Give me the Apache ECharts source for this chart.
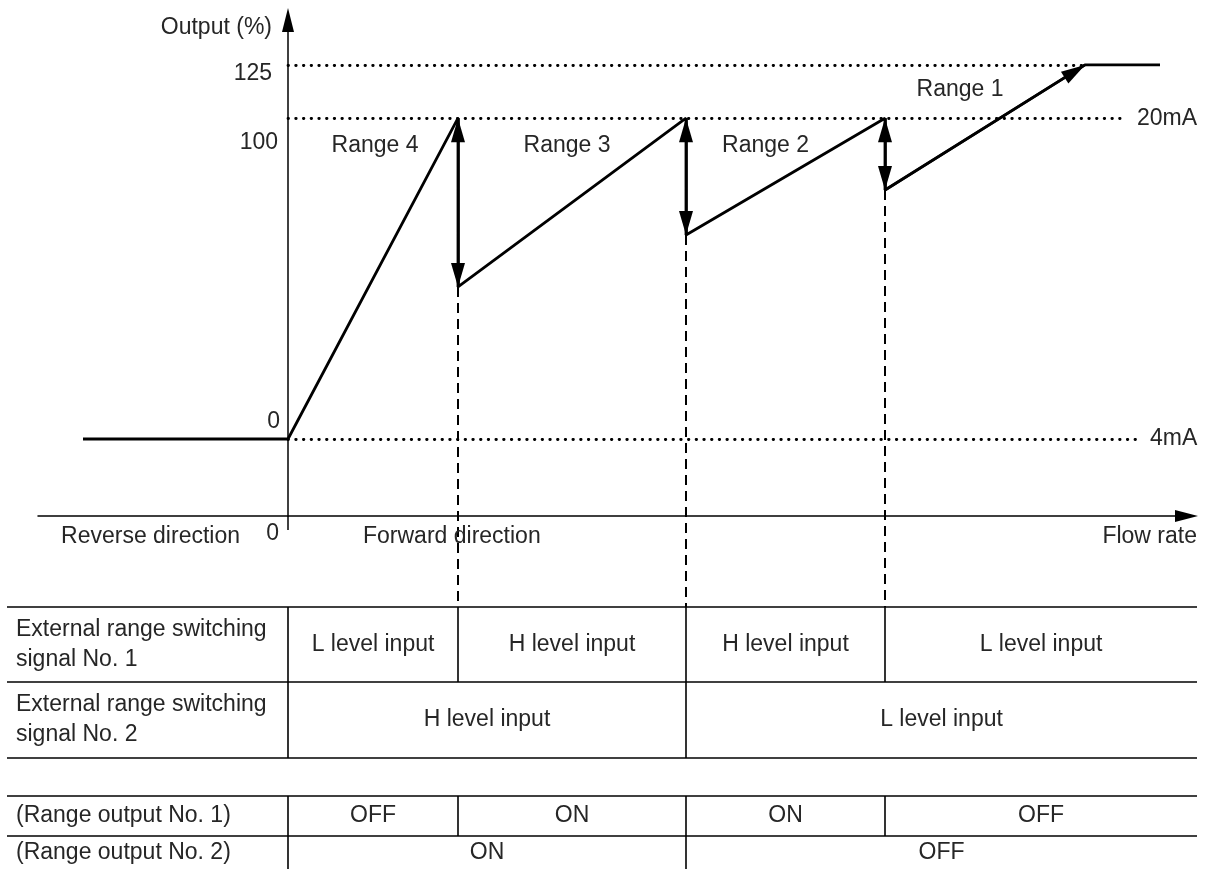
<!DOCTYPE html>
<html>
<head>
<meta charset="utf-8">
<script src="https://cdn.jsdelivr.net/npm/echarts@6/dist/echarts.min.js"></script>
<style>
html, body { margin: 0; padding: 0; background: #fff; }
#main { width: 1211px; height: 869px; }
</style>
</head>
<body>
<div id="main"></div>
<script>
// flow rate in drawing units (0 = zero flow), output in % (125 % is drawn compressed, as in the original)
const reverseFlow = -205;
const switchFlow = [170, 398, 597];          // range 4->3, 3->2, 2->1
const fullFlow = 797;                         // output reaches 125 %
const endFlow = 872;
const outputLevels = [0, 100, 116.6];         // 0 %, 100 %, 125 %
const levelLabels = ['0', '100', '125'];
const levelCurrents = ['4mA', '20mA', ''];
const dropOutput = [47.4, 63.6, 77.6];        // output right after each switch
const rangeNames = ['Range 4', 'Range 3', 'Range 2', 'Range 1'];
const axisTexts = ['Output (%)', 'Reverse direction', 'Forward direction', 'Flow rate'];
const xTickLabels = ['0'];

// table below the graph
const rowNames = [
  'External range switching\nsignal No. 1',
  'External range switching\nsignal No. 2',
  '(Range output No. 1)',
  '(Range output No. 2)'
];
const signalNo1 = ['L level input', 'H level input', 'H level input', 'L level input'];
const signalNo2 = ['H level input', 'L level input'];
const outputNo1 = ['OFF', 'ON', 'ON', 'OFF'];
const outputNo2 = ['ON', 'OFF'];

// layout
const FONT = '"Liberation Sans", Arial, sans-serif';
const TXT = '#262626';
const FS = 23;
const xMin = -250, xMax = 898.5;
const yMin = -24, yMax = 130.6;
const gridTop = 20, gridBottom = 353;
const tableXMin = -281, tableXMax = 909;
const rowBands = [[0, 75], [75, 151], [189, 229], [229, 262]];
const closedBelow = [false, true, false, false];

const chartHeight = 869;
const pxPerUnit = (chartHeight - gridTop - gridBottom) / (yMax - yMin);
const axisPx = chartHeight - gridBottom;
const tableTopPx = 607;
const tableTopY = yMin - (tableTopPx - axisPx) / pxPerUnit;

const lvl0 = outputLevels[0], lvl100 = outputLevels[1], lvl125 = outputLevels[2];

// sawtooth output curve
const curve = [[reverseFlow, lvl0], [0, lvl0]];
switchFlow.forEach((s, i) => {
  curve.push([s, lvl100], [s, dropOutput[i]]);
});
curve.push([fullFlow, lvl125], [endFlow, lvl125]);

const arrowSize = [14, 24];
const arrowLines = switchFlow.map((s, i) => [
  { coord: [s, lvl100] },
  { coord: [s, dropOutput[i]] }
]);
arrowLines.push([
  { coord: [switchFlow[2], dropOutput[2]], symbol: 'none' },
  { coord: [fullFlow, lvl125] }
]);

// dotted level lines
const levelEnds = [852, 835, fullFlow];
const dotted = { type: [0.5, 7.2], cap: 'round', width: 2.8, color: '#000' };
const levelLines = outputLevels.map((v, i) => [
  {
    coord: [0, v],
    lineStyle: dotted,
    label: {
      show: levelCurrents[i] !== '',
      position: 'end',
      formatter: levelCurrents[i],
      distance: i === 0 ? 10 : 14,
      color: TXT, fontFamily: FONT, fontSize: FS
    }
  },
  { coord: [levelEnds[i], v] }
]);

// dashed drop lines down to the table
const dashSeries = switchFlow.map((s, i) => ({
  type: 'line',
  clip: false,
  symbol: 'none',
  silent: true,
  data: [[s, dropOutput[i]], [s, tableTopY]],
  lineStyle: { color: '#000', width: 2, type: [10, 6] },
  z: 1
}));

// free texts
const rangeBounds = [0, ...switchFlow, fullFlow];
const rangeOffsets = [[2, 27], [-5, 27], [-20, 27], [-25, 25]];
function txt(value, text, offset, align) {
  return {
    value: value,
    label: {
      show: true, position: 'inside', formatter: text, offset: offset,
      align: align, verticalAlign: 'middle', opacity: 1,
      color: TXT, fontFamily: FONT, fontSize: FS
    }
  };
}
const texts = [
  txt([0, yMax], axisTexts[0], [-16, 8], 'right'),
  txt([0, lvl125], levelLabels[2], [-16, 9], 'right'),
  txt([0, lvl100], levelLabels[1], [-10, 24], 'right'),
  txt([0, lvl0], levelLabels[0], [-8, -17], 'right'),
  txt([0, yMin], axisTexts[1], [-48, 21], 'right'),
  txt([0, yMin], axisTexts[2], [75, 21], 'left'),
  txt([xMax, yMin], axisTexts[3], [10.5, 21], 'right')
];
rangeNames.forEach((n, i) => {
  const mid = (rangeBounds[i] + rangeBounds[i + 1]) / 2;
  texts.push(txt([mid, i === 3 ? lvl125 : lvl100], n, rangeOffsets[i], 'center'));
});

// table cells
const cells = [];
rowNames.forEach((n, r) => cells.push({ x0: tableXMin, x1: 0, row: r, text: n, head: true }));
[signalNo1, signalNo2, outputNo1, outputNo2].forEach((vals, r) => {
  const edges = vals.length === 4 ? [0, ...switchFlow, tableXMax] : [0, switchFlow[1], tableXMax];
  vals.forEach((t, i) => cells.push({ x0: edges[i], x1: edges[i + 1], row: r, text: t }));
});

function rule(a, b) {
  return {
    type: 'line',
    shape: { x1: a[0], y1: a[1], x2: b[0], y2: b[1] },
    style: { stroke: '#000', lineWidth: 1.6 }
  };
}

function renderCell(params, api) {
  const c = cells[params.dataIndex];
  const top = rowBands[c.row][0], bottom = rowBands[c.row][1];
  const p0 = api.coord([c.x0, top]);
  const p1 = api.coord([c.x1, bottom]);
  const cy = (p0[1] + p1[1]) / 2;
  const children = [];
  const style = { fill: TXT, fontFamily: FONT, fontSize: FS, verticalAlign: 'middle', lineHeight: 30 };
  if (c.head) {
    children.push(rule(api.coord([tableXMin, top]), api.coord([tableXMax, top])));
    if (closedBelow[c.row]) {
      children.push(rule(api.coord([tableXMin, bottom]), api.coord([tableXMax, bottom])));
    }
    children.push({ type: 'text', style: Object.assign({ text: c.text, x: p0[0] + 9, y: cy, align: 'left' }, style) });
  } else {
    children.push(rule(p0, [p0[0], p1[1]]));
    children.push({ type: 'text', style: Object.assign({ text: c.text, x: (p0[0] + p1[0]) / 2, y: cy, align: 'center' }, style) });
  }
  return { type: 'group', children: children };
}

const axisLineStyle = { color: '#000', width: 1.5 };

const option = {
  animation: false,
  backgroundColor: '#fff',
  grid: [
    { left: 38, right: 24.5, top: gridTop, bottom: gridBottom },
    { left: 7, right: 14, top: tableTopPx, bottom: 0 }
  ],
  xAxis: [
    {
      type: 'value', gridIndex: 0, min: xMin, max: xMax,
      splitLine: { show: false },
      axisLine: {
        show: true, onZero: false,
        symbol: ['none', 'triangle'], symbolSize: [12, 23],
        lineStyle: axisLineStyle
      },
      axisTick: { show: true, customValues: [0], length: 14, lineStyle: axisLineStyle },
      axisLabel: {
        customValues: [0], formatter: () => xTickLabels[0],
        align: 'right', padding: [0, 9, 0, 0], margin: 6,
        color: TXT, fontFamily: FONT, fontSize: FS
      }
    },
    { type: 'value', gridIndex: 1, min: tableXMin, max: tableXMax, show: false }
  ],
  yAxis: [
    {
      type: 'value', gridIndex: 0, min: yMin, max: yMax,
      splitLine: { show: false },
      axisLine: {
        show: true, onZero: true,
        symbol: ['none', 'triangle'], symbolSize: [12, 24],
        lineStyle: axisLineStyle
      },
      axisTick: { show: false },
      axisLabel: { show: false }
    },
    { type: 'value', gridIndex: 1, min: 0, max: 262, inverse: true, show: false }
  ],
  series: [
    {
      type: 'line',
      name: 'levels',
      data: [],
      silent: true,
      markLine: { silent: true, symbol: ['none', 'none'], data: levelLines },
      z: 1
    },
    ...dashSeries,
    {
      type: 'line',
      name: 'output',
      data: curve,
      symbol: 'none',
      clip: false,
      silent: true,
      lineStyle: { color: '#000', width: 2.8 },
      markLine: {
        silent: true,
        symbol: ['triangle', 'triangle'],
        symbolSize: arrowSize,
        symbolOffset: [[0, arrowSize[1] / 2], [0, arrowSize[1] / 2]],
        label: { show: false },
        lineStyle: { color: '#000', width: 2.6, type: 'solid' },
        data: arrowLines
      },
      z: 3
    },
    {
      type: 'scatter',
      name: 'texts',
      symbolSize: 0,
      clip: false,
      silent: true,
      itemStyle: { opacity: 1 },
      data: texts,
      z: 4
    },
    {
      type: 'custom',
      name: 'table',
      xAxisIndex: 1,
      yAxisIndex: 1,
      silent: true,
      data: cells.map(c => [c.x0, c.row]),
      encode: { x: 0, y: 1 },
      renderItem: renderCell
    }
  ]
};

const chart = echarts.init(document.getElementById('main'));
chart.setOption(option);
</script>
</body>
</html>
